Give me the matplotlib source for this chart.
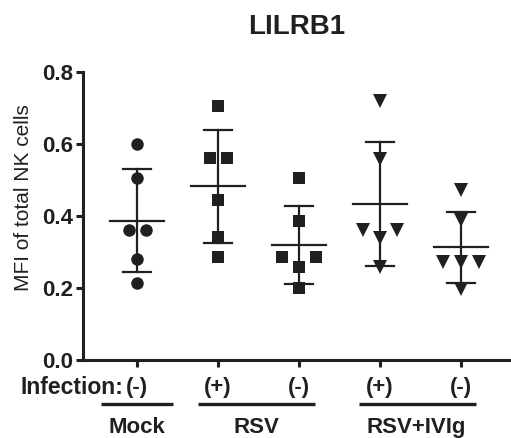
import numpy as np
import matplotlib
matplotlib.use("Agg")
import matplotlib.pyplot as plt
import matplotlib.transforms as mtransforms

plt.rcParams['font.family'] = ['Liberation Sans', 'DejaVu Sans']

# ---- data ----
infection_labels = ["(-)", "(+)", "(-)", "(+)", "(-)"]
group_names = ["Mock", "RSV", "RSV+IVIg"]
mock_neg = [0.600, 0.505, 0.360, 0.360, 0.280, 0.215]
rsv_pos = [0.706, 0.560, 0.560, 0.444, 0.341, 0.285]
rsv_neg = [0.505, 0.386, 0.285, 0.259, 0.285, 0.199]
ivig_pos = [0.720, 0.558, 0.361, 0.338, 0.361, 0.259]
ivig_neg = [0.472, 0.389, 0.273, 0.273, 0.273, 0.196]
yticks = [0.0, 0.2, 0.4, 0.6, 0.8]
title = "LILRB1"
ylabel = "MFI of total NK cells"

series = [mock_neg, rsv_pos, rsv_neg, ivig_pos, ivig_neg]
markers = ['o', 's', 's', 'v', 'v']
msizes = [9, 9, 9, 9.5, 9.5]
# horizontal spread of overlapping points (layout only)
spread = [[0, 0, -0.105, 0.105, 0, 0],
          [0, -0.105, 0.105, 0, 0, 0],
          [0, 0, -0.21, 0, 0.21, 0],
          [0, 0, -0.21, 0, 0.21, 0],
          [0, 0, -0.22, 0, 0.22, 0]]

col = '#231f20'
fs = 16
fig = plt.figure(figsize=(5.11, 4.38), dpi=100)
ax = fig.add_axes([83/511, 78/438, 428/511, 288/438])

for i, vals in enumerate(series):
    v = np.array(vals)
    xs = i + np.array(spread[i])
    ax.plot(xs, v, linestyle='none', marker=markers[i], markersize=msizes[i],
            color=col, markeredgewidth=0, zorder=3)
    m = v.mean()
    sd = v.std(ddof=1)
    ax.plot([i, i], [m - sd, m + sd], color=col, lw=1.6, zorder=2)
    ax.plot([i - 0.167, i + 0.167], [m + sd, m + sd], color=col, lw=1.6, zorder=2)
    ax.plot([i - 0.167, i + 0.167], [m - sd, m - sd], color=col, lw=1.6, zorder=2)
    ax.plot([i - 0.33, i + 0.33], [m, m], color=col, lw=1.6, zorder=2)

ax.set_xlim(-0.667, 4.617)
ax.set_ylim(0, 0.8)
ax.set_yticks(yticks)
ax.set_yticklabels([f"{t:.1f}" for t in yticks], fontsize=fs, fontweight='bold', color=col)
ax.set_xticks(range(len(series)))
ax.set_xticklabels([])
ax.tick_params(axis='both', direction='out', width=2.2, color=col)
ax.tick_params(axis='y', length=5, pad=2)
ax.tick_params(axis='x', length=5)
for s in ['top', 'right']:
    ax.spines[s].set_visible(False)
for s in ['left', 'bottom']:
    ax.spines[s].set_linewidth(2.2)
    ax.spines[s].set_color(col)

ax.set_ylabel(ylabel, fontsize=15, color=col)
ax.yaxis.set_label_coords(-50/428, 0.5625)
ax.set_title(title, fontsize=20, fontweight='bold', color=col, pad=27)

trans = mtransforms.blended_transform_factory(ax.transData, ax.transAxes)
for i, lab in enumerate(infection_labels):
    ax.text(i, -0.094, lab, transform=trans, ha='center', va='center',
            fontsize=fs, fontweight='bold', color=col, clip_on=False)
ax.text(-0.17, -0.094, "Infection:", transform=trans, ha='right', va='center',
        fontsize=16.5, fontweight='bold', color=col, clip_on=False)

group_spans = [(-0.44, 0.448), (0.757, 2.2), (2.744, 4.18)]
group_centers = [0.0, 1.48, 3.45]
for (a, b), c, name in zip(group_spans, group_centers, group_names):
    ax.plot([a, b], [-0.153, -0.153], transform=trans, color=col, lw=2.4,
            clip_on=False, solid_capstyle='butt')
    ax.text(c, -0.233, name, transform=trans, ha='center', va='center',
            fontsize=fs, fontweight='bold', color=col, clip_on=False)

fig.savefig("out.png", dpi=100)
